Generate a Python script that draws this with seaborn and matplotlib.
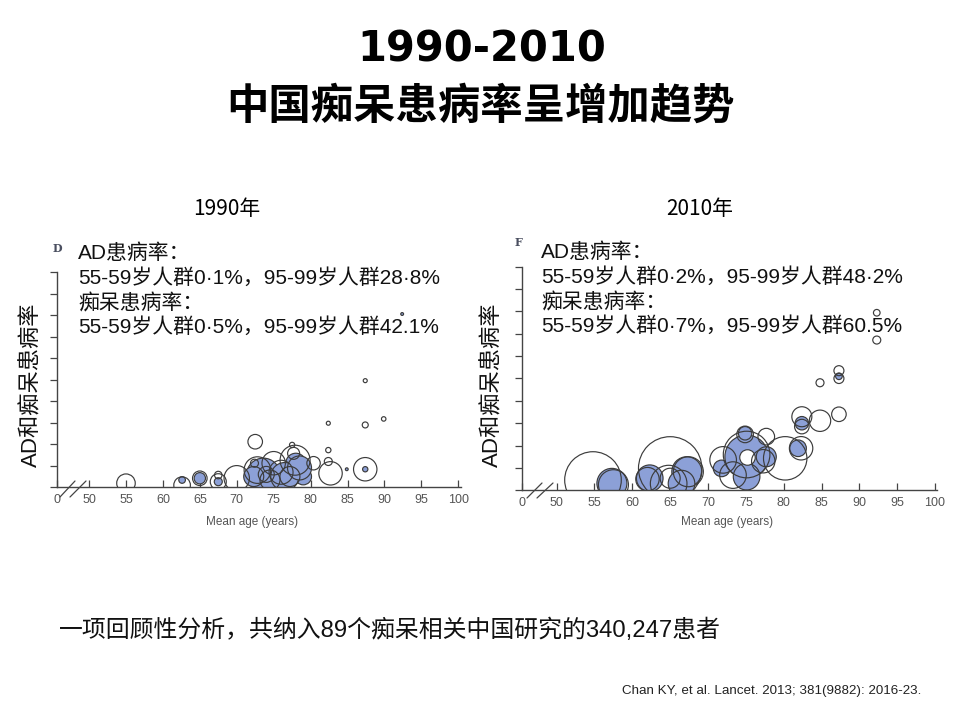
import numpy as np
import pandas as pd
import matplotlib
matplotlib.use("Agg")
import matplotlib.pyplot as plt
import seaborn as sns

sns.set_theme(style="white")
plt.rcParams['font.family'] = ['Liberation Sans', 'Noto Sans CJK SC', 'DejaVu Sans']

# ---------------- data ----------------
# 1990 panel: mean age, prevalence (%), relative study weight, study type
age_1990 = [55.0, 62.6, 62.6, 65.0, 65.0, 67.5, 67.5, 67.5, 70.0, 72.5,
            73.6, 72.3, 78.0, 79.0, 72.8, 75.0, 77.9, 77.2, 80.4, 77.5,
            77.7, 72.4, 74.5, 82.7, 82.4, 82.4, 82.4, 84.9, 87.4, 87.4,
            87.4, 87.4, 89.9, 92.4, 76.0, 74.0, 76.5, 78.5]
prev_1990 = [0.95, 1.7, 0.5, 2.1, 2.1, 1.3, 2.85, 1.3, 2.1, 10.6,
             2.9, 2.5, 5.6, 2.5, 4.0, 5.6, 6.3, 2.5, 5.6, 9.85,
             7.9, 5.6, 1.7, 3.25, 6.0, 8.65, 14.9, 4.2, 4.2, 4.2,
             14.5, 24.8, 15.9, 40.3, 3.5, 3.0, 2.5, 4.5]
n_1990 = [86, 11, 69, 32, 53, 16, 14, 64, 161, 53,
          279, 100, 100, 69, 177, 137, 225, 100, 45, 7,
          36, 16, 100, 137, 16, 7, 4, 2, 137, 7,
          9, 4, 5, 2, 144, 64, 196, 144]
type_1990 = ['D', 'AD', 'D', 'AD', 'D', 'AD', 'D', 'D', 'D', 'D',
             'AD', 'AD', 'AD', 'AD', 'D', 'D', 'D', 'D', 'D', 'D',
             'D', 'D', 'D', 'D', 'D', 'D', 'D', 'AD', 'D', 'AD',
             'D', 'D', 'D', 'AD', 'D', 'D', 'AD', 'AD']

# 2010 panel
age_2010 = [54.8, 57.3, 57.5, 62.3, 62.0, 65.0, 65.0, 64.8, 67.2, 66.5,
            67.4, 72.0, 71.8, 75.1, 75.1, 75.1, 73.3, 74.9, 74.9, 75.1,
            77.7, 77.7, 77.3, 80.2, 81.9, 82.3, 82.4, 82.4, 82.4, 84.8,
            87.3, 84.8, 87.3, 87.3, 87.3, 92.3, 92.3]
prev_2010 = [2.3, 1.55, 1.25, 2.7, 2.5, 4.9, 2.7, 1.5, 4.15, 1.5,
             4.15, 6.8, 4.9, 7.5, 8.0, 3.05, 3.4, 12.75, 12.5, 7.5,
             7.5, 12.0, 6.5, 7.15, 9.4, 9.4, 16.45, 15.0, 14.25, 15.55,
             17.0, 24.05, 26.75, 25.5, 25.0, 39.7, 33.6]
n_2010 = [801, 225, 225, 177, 137, 1005, 100, 335, 225, 177,
          225, 177, 69, 471, 543, 177, 177, 45, 69, 60,
          100, 69, 137, 471, 69, 137, 100, 45, 53, 114,
          53, 16, 25, 11, 25, 11, 16]
type_2010 = ['D', 'AD', 'D', 'AD', 'D', 'D', 'D', 'D', 'AD', 'AD',
             'D', 'D', 'AD', 'AD', 'D', 'AD', 'D', 'AD', 'D', 'W',
             'AD', 'D', 'D', 'D', 'AD', 'D', 'D', 'AD', 'D', 'D',
             'D', 'D', 'D', 'AD', 'D', 'D', 'D']

x_tick_vals = [50, 55, 60, 65, 70, 75, 80, 85, 90, 95, 100]
x_tick_labels = ['0', '50', '55', '60', '65', '70', '75', '80', '85', '90', '95', '100']
y_tick_vals = [0, 5, 10, 15, 20, 25, 30, 35, 40, 45, 50]

ad_line1 = "AD患病率："
ad_line3 = "痴呆患病率："
lines_1990 = [ad_line1, "55-59岁人群0·1%，95-99岁人群28·8%", ad_line3, "55-59岁人群0·5%，95-99岁人群42.1%"]
lines_2010 = [ad_line1, "55-59岁人群0·2%，95-99岁人群48·2%", ad_line3, "55-59岁人群0·7%，95-99岁人群60.5%"]

# ---------------- styling ----------------
BLUE = '#8ca0d7'
EDGE = '#3c3c3c'
W, H = 960, 720
NMAX = 1200.0
SMAX = NMAX * (2 * 0.72) ** 2   # area in pt^2 proportional to weight

fig = plt.figure(figsize=(9.6, 7.2), dpi=100)
fig.patch.set_facecolor('white')


def fx(x):
    return x / W


def fy(y):
    return 1 - y / H


def panel(rect_px, ages, prevs, ns, types, xmin, xmax):
    x0, y0, x1, y1 = rect_px
    ax = fig.add_axes([fx(x0), fy(y1), (x1 - x0) / W, (y1 - y0) / H])
    df = pd.DataFrame({'age': ages, 'prev': prevs, 'n': ns, 'type': types})
    # blue first, then white-filled, then open rings
    for t, fc, z in [('AD', BLUE, 2), ('W', 'white', 3), ('D', 'none', 4)]:
        sub = df[df['type'] == t]
        if len(sub) == 0:
            continue
        sns.scatterplot(data=sub, x='age', y='prev', size='n',
                        sizes=(0, SMAX), size_norm=(0, NMAX),
                        color=BLUE if fc == 'none' else fc,
                        edgecolor=EDGE, linewidth=0.85, alpha=1,
                        legend=False, ax=ax, zorder=z)
        coll = ax.collections[-1]
        coll.set_facecolor(fc)
        coll.set_edgecolor(EDGE)
    ax.set_xlim(xmin, xmax)
    ax.set_ylim(0, 50)
    ax.set_xticks([xmin] + x_tick_vals)
    ax.set_xticklabels(x_tick_labels)
    ax.set_yticks(y_tick_vals)
    ax.set_yticklabels([])
    ax.set_xlabel('')
    ax.set_ylabel('')
    sns.despine(ax=ax)
    for s in ['left', 'bottom']:
        ax.spines[s].set_color('#444444')
        ax.spines[s].set_linewidth(1.0)
    ax.tick_params(axis='x', direction='in', length=5, width=0.9,
                   color='#444444', labelcolor='#555555', labelsize=9,
                   pad=5, bottom=True)
    ax.tick_params(axis='y', direction='out', length=5, width=0.9,
                   color='#444444', left=True, labelleft=False)
    ax.set_facecolor('none')
    ax.patch.set_alpha(0)
    return ax


axL = panel((57, 272.3, 460.5, 487.3), age_1990, prev_1990, n_1990, type_1990,
            45.66, 100.3)
axR = panel((521.7, 266.7, 937, 490.3), age_2010, prev_2010, n_2010, type_2010,
            45.38, 100.26)

# axis break marks
for (xa, ya, xb, yb) in [(60, 497, 75, 481), (70, 497, 86, 481),
                         (527, 498, 542, 483), (537, 498, 553, 483)]:
    fig.add_artist(plt.Line2D([fx(xa), fx(xb)], [fy(ya), fy(yb)],
                              transform=fig.transFigure, color='#444444', lw=0.9))

# titles
fig.text(fx(482), fy(50), "1990-2010", ha='center', va='center', fontsize=30,
         fontweight='bold', color='black', family=['DejaVu Sans'])
fig.text(fx(480), fy(107), "中国痴呆患病率呈增加趋势", ha='center', va='center',
         fontsize=30.5, fontweight='bold', color='black',
         family=['Noto Sans CJK SC', 'DejaVu Sans'])

fig.text(fx(227), fy(209), "1990年", ha='center', va='center', fontsize=15,
         color='black', family=['Noto Sans CJK SC', 'DejaVu Sans'])
fig.text(fx(700), fy(209), "2010年", ha='center', va='center', fontsize=15,
         color='black', family=['Noto Sans CJK SC', 'DejaVu Sans'])

# panel letters
fig.text(fx(57), fy(249), "D", ha='center', va='center', fontsize=8,
         fontweight='bold', color='#4a4f60', family=['DejaVu Serif'])
fig.text(fx(518), fy(243), "F", ha='center', va='center', fontsize=8,
         fontweight='bold', color='#4a4f60', family=['DejaVu Serif'])

# annotation lines
for lines, x0, ys in [(lines_1990, 78, [253, 278, 303, 327]),
                      (lines_2010, 541, [252, 277, 302, 326])]:
    for t, yy in zip(lines, ys):
        fig.text(fx(x0), fy(yy), t, ha='left', va='center', fontsize=15,
                 color='#111111')

# y labels
for xx in (32, 493):
    fig.text(fx(xx), fy(385), "AD和痴呆患病率", rotation=90, ha='center',
             va='center', fontsize=16, color='#111111')

# x labels
fig.text(fx(252), fy(522), "Mean age (years)", ha='center', va='center',
         fontsize=8.5, color='#555555')
fig.text(fx(727), fy(522), "Mean age (years)", ha='center', va='center',
         fontsize=8.5, color='#555555')

# footer
fig.text(fx(59), fy(630), "一项回顾性分析，共纳入89个痴呆相关中国研究的340,247患者",
         ha='left', va='center', fontsize=17.2, color='#111111')
fig.text(fx(622), fy(691), "Chan KY, et al. Lancet. 2013; 381(9882): 2016-23.",
         ha='left', va='center', fontsize=9.6, color='#222222')

fig.savefig("out.png", dpi=100, facecolor='white')
